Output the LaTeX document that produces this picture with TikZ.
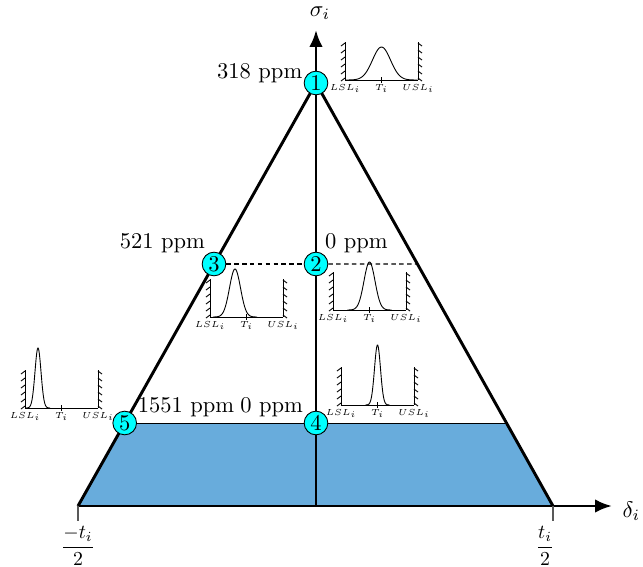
\documentclass[tikz,border=0pt]{standalone}
\usepackage{amsmath}
\usetikzlibrary{arrows.meta,calc}

\definecolor{zoneblue}{RGB}{104,172,220}
\definecolor{pointcyan}{RGB}{0,255,255}

% small tolerance chart: name, left x, base y, mean, sigma, peak height
\newcommand{\specchart}[6]{%
  \begin{scope}[shift={(#2,#3)}]
    \draw[thin] (0,0) -- (73,0);
    \draw[thin] (0,0) -- (0,-38);
    \draw[thin] (73,0) -- (73,-38);
    \foreach \k in {0,...,5} {
      \draw[thin] (0,-\k*7-2) -- ++(-4,3);
      \draw[thin] (73,-\k*7-2) -- ++(4,3);
    }
    \draw[thin] (36.5,-3) -- (36.5,3);
    \draw[thin, smooth, samples=60, domain=#4-4*#5:#4+4*#5]
      plot (\x,{-#6*exp(-((\x-#4)^2)/(2*#5*#5))});
    \node[minilabel] (#1-lsl) at (0,2)    {$LSL_i$};
    \node[minilabel] (#1-t)   at (36.5,2) {$T_i$};
    \node[minilabel] (#1-usl) at (73,2)   {$USL_i$};
  \end{scope}}

\begin{document}
\begin{tikzpicture}[
    x=0.444pt, y=-0.444pt,
    >={Latex[length=7.5pt,width=6pt]},
    pt/.style={circle, draw=black, fill=pointcyan, minimum size=10.5pt, inner sep=0pt},
    side/.style={line width=1.3pt},
    axis/.style={->, line width=1.3pt},
    minilabel/.style={font=\tiny, scale=0.78, anchor=north, inner sep=1pt},
    ppm/.style={inner sep=0pt},
    bound/.style={inner sep=0pt, scale=0.88}
]
\useasboundingbox (0,0) rectangle (643,567);

% axes and triangle corners
\coordinate (O)    at (316,506);
\coordinate (L)    at (78,506);
\coordinate (R)    at (553,506);
\coordinate (A)    at (316,83);
\coordinate (xend) at (612,506);
\coordinate (yend) at (316,30);
\coordinate (bl)   at ($(L)!{83/423}!(A)$);
\coordinate (br)   at ($(R)!{83/423}!(A)$);
\coordinate (mr)   at ($(R)!{242/423}!(A)$);

% shaded zone
\fill[zoneblue] (L) -- (R) -- (br) -- (bl) -- cycle;
\draw[thin] (bl) -- (br);

% triangle
\draw[side] (L) -- (A) -- (R);

% axes
\draw[axis] (L) -- (xend);
\draw[axis] (O) -- (yend);
\node (sig) at (320,13) {$\sigma_i$};
\node[anchor=west, inner sep=1pt] (del) at (620,511) {$\delta_i$};

% bounds on delta axis
\coordinate (Lt) at (78,521);
\coordinate (Rt) at (553,521);
\draw[gray!70!black, thick] (L) -- (Lt);
\draw[gray!70!black, thick] (R) -- (Rt);
\node[bound] (lo) at (78,546)  {$\dfrac{-t_i}{2}$};
\node[bound] (hi) at (545,546) {$\dfrac{t_i}{2}$};

% points
\node[pt] (n1) at (A)       {1};
\node[pt] (n2) at (316,264) {2};
\node[pt] (n3) at (214,264) {3};
\node[pt] (n4) at (316,423) {4};
\node[pt] (n5) at (bl)      {5};

\draw[dash pattern=on 2pt off 1.5pt, line width=0.5pt] (n3) -- (n2);
\draw[dash pattern=on 2pt off 1.5pt, line width=0.5pt] (n2) -- (mr);

% defect levels
\node[ppm, anchor=base east] (p1) at ($(n1.west)+(-1,-5)$)       {318 ppm};
\node[ppm, anchor=base east] (p3) at ($(n3.north west)+(0,-7)$)  {521 ppm};
\node[ppm, anchor=base west] (p2) at ($(n2.north east)+(0,-7)$)  {0 ppm};
\node[ppm, anchor=base west] (p5) at ($(n5.north east)+(4,-2)$)  {1551 ppm};
\node[ppm, anchor=base east] (p4) at ($(n4.north west)+(-4,-2)$) {0 ppm};

% distributions
\specchart{c1}{345}{80}{36.5}{9}{33}
\specchart{c2}{333}{310}{36.5}{5.5}{48}
\specchart{c3}{210}{317}{25}{5.5}{48}
\specchart{c4}{341}{405}{36.5}{3}{60}
\specchart{c5}{25}{408}{13}{3}{60}

\end{tikzpicture}
\end{document}
